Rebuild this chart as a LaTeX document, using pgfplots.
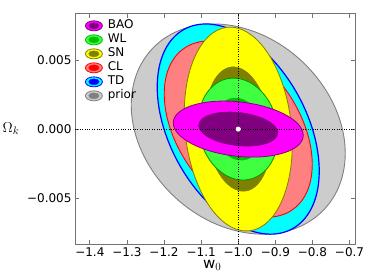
\documentclass[border=0pt]{standalone}
\usepackage{fontspec}
\setmainfont{DejaVu Sans}
\usepackage{pgfplots}
\pgfplotsset{compat=1.18}

\definecolor{baoout}{RGB}{255,0,255}
\definecolor{baoin}{RGB}{128,0,128}
\definecolor{wlout}{RGB}{64,255,64}
\definecolor{wlin}{RGB}{0,192,0}
\definecolor{wledge}{RGB}{0,150,0}
\definecolor{snout}{RGB}{255,255,0}
\definecolor{snin}{RGB}{128,128,0}
\definecolor{clout}{RGB}{255,128,128}
\definecolor{clin}{RGB}{255,0,0}
\definecolor{tdout}{RGB}{0,255,255}
\definecolor{tdin}{RGB}{0,0,255}
\definecolor{prout}{RGB}{204,204,204}
\definecolor{prin}{RGB}{128,128,128}

% Fisher ellipse centred on the fiducial (w0,Omega_k)=(-1,0)
% #1 semi-extent in w0, #2 semi-extent in Omega_k, #3 correlation, #4 scale (1 = 2sigma, 0.61 = 1sigma),
% #5 fill, #6 edge, #7 line width
\newcommand{\fisherellipse}[7]{%
  \draw[fill=#5, draw=#6, line width=#7,
        shift={(axis cs:-1,0)},
        xscale={#1*371*#4}, yscale={#2*13800*sqrt(1-(#3)*(#3))*#4},
        yslant={(#3)/sqrt(1-(#3)*(#3))}]
        (0bp,0bp) circle[radius=1bp];}

\newcommand{\legell}[2]{\draw[fill=#1,draw=#2,line width=0.8bp](8.5bp,0bp) ellipse[x radius=8.5bp,y radius=5bp];\fill[#2](8.5bp,0bp) ellipse[x radius=5.2bp,y radius=3bp];}

\begin{document}
\begin{tikzpicture}
\useasboundingbox (-75bp,-35.7bp) rectangle (299bp,244.3bp);
\begin{axis}[
  at={(0bp,0bp)}, anchor=south west,
  scale only axis, width=280.1bp, height=230.46bp,
  xmin=-1.44, xmax=-0.685, ymin=-0.00835, ymax=0.00835,
  xtick={-1.4,-1.3,-1.2,-1.1,-1.0,-0.9,-0.8,-0.7},
  xticklabels={−1.4,−1.3,−1.2,−1.1,−1.0,−0.9,−0.8,−0.7},
  ytick={-0.005,0,0.005},
  yticklabels={−0.005,0.000,0.005},
  scaled y ticks=false, scaled x ticks=false,
  tick label style={font=\fontsize{12bp}{14bp}\selectfont},
  axis line style={black!55, line width=0.8bp},
  major tick length=4bp,
  every tick/.style={black!55, line width=0.8bp},
  tick align=inside,
  xlabel={$\mathrm{w}_0$}, ylabel={$\Omega_k$},
  label style={font=\fontsize{15bp}{17bp}\selectfont, inner sep=0bp},
  x label style={at={(axis description cs:0.49,-0.106)}, anchor=base},
  y label style={at={(axis description cs:-0.2285,0.487)}, anchor=base, rotate=-90},
  legend cell align=left,
  legend style={at={(axis description cs:0.0357,0.974)}, anchor=north west,
    draw=none, fill=none, inner sep=0bp, outer sep=0bp, row sep=2bp,
    font=\fontsize{12bp}{14bp}\selectfont,
    nodes={inner sep=0bp, text height=9bp, text depth=3bp},
    /tikz/every odd column/.append style={column sep=5bp}},
]
\addlegendimage{legend image code/.code={\legell{baoout}{baoin}}}
\addlegendentry{BAO}
\addlegendimage{legend image code/.code={\legell{wlout}{wlin}}}
\addlegendentry{WL}
\addlegendimage{legend image code/.code={\legell{snout}{snin}}}
\addlegendentry{SN}
\addlegendimage{legend image code/.code={\legell{clout}{clin}}}
\addlegendentry{CL}
\addlegendimage{legend image code/.code={\legell{tdout}{tdin}}}
\addlegendentry{TD}
\addlegendimage{legend image code/.code={\legell{prout}{prin}}}
\addlegendentry{prior}

% prior
\fisherellipse{0.2884}{0.00761}{-0.23}{1}{prout}{prin}{0.9bp}
\fisherellipse{0.2884}{0.00761}{-0.23}{0.61}{prin}{prin}{0.5bp}
% TD
\fisherellipse{0.2183}{0.00761}{-0.40}{1}{tdout}{tdin}{1.2bp}
\fisherellipse{0.2183}{0.00761}{-0.40}{0.61}{tdin}{tdin}{0.5bp}
% CL
\fisherellipse{0.1995}{0.00638}{-0.40}{1}{clout}{clin}{0.9bp}
\fisherellipse{0.1995}{0.00638}{-0.40}{0.61}{clin}{clin}{0.5bp}
% SN
\fisherellipse{0.1456}{0.00739}{-0.15}{1}{snout}{snin}{0.8bp}
\fisherellipse{0.1456}{0.00739}{-0.15}{0.61}{snin}{snin}{0.5bp}
% WL
\fisherellipse{0.1078}{0.00370}{-0.12}{1}{wlout}{wledge}{0.8bp}
\fisherellipse{0.1078}{0.00370}{-0.12}{0.61}{wlin}{wlin}{0.5bp}
% BAO
\fisherellipse{0.1752}{0.00203}{-0.22}{1}{baoout}{baoin}{0.8bp}
\fisherellipse{0.1752}{0.00203}{-0.22}{0.61}{baoin}{baoin}{0.5bp}

\addplot[forget plot, black, line width=0.5bp, dash pattern=on 0.8bp off 1.6bp] coordinates {(-1,-0.00835) (-1,0.00835)};
\addplot[forget plot, black, line width=0.5bp, dash pattern=on 0.8bp off 1.6bp] coordinates {(-1.44,0) (-0.685,0)};
\addplot[forget plot, only marks, mark=*, mark size=2.3bp, mark options={fill=white, draw=white}] coordinates {(-1,0)};
\end{axis}
\end{tikzpicture}
\end{document}
